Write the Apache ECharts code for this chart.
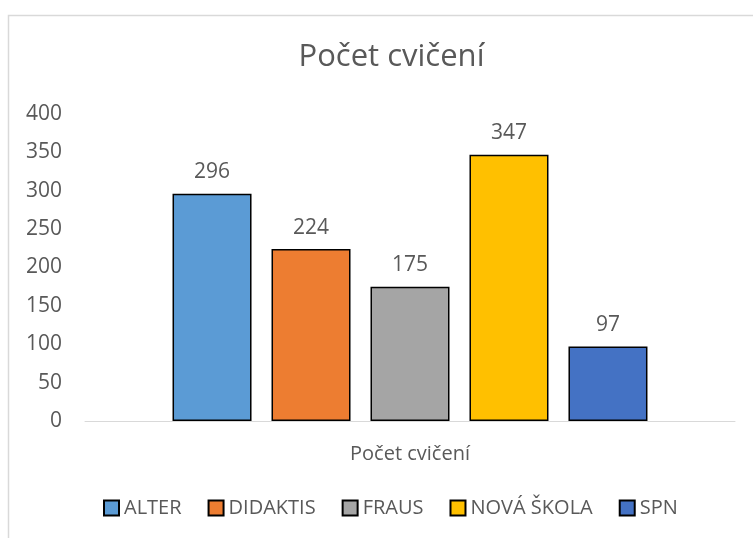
<!DOCTYPE html>
<html>
<head>
<meta charset="utf-8">
<script src="https://cdn.jsdelivr.net/npm/echarts@6/dist/echarts.min.js"></script>
<style>html,body{margin:0;padding:0;background:#fff}#c{width:753px;height:538px}</style>
</head>
<body>
<div id="c"></div>
<script>
const categories = ['Počet cvičení'];
const seriesNames = ['ALTER', 'DIDAKTIS', 'FRAUS', 'NOVÁ ŠKOLA', 'SPN'];
const seriesValues = [296, 224, 175, 347, 97];
const seriesColors = ['#5B9BD5', '#ED7D31', '#A5A5A5', '#FFC000', '#4472C4'];
const yTicks = { min: 0, max: 400, interval: 50 };

const FONT = '"Open Sans", sans-serif';
const TXT = '#595959';

const chart = echarts.init(document.getElementById('c'), null, { renderer: 'canvas' });
chart.setOption({
  animation: false,
  textStyle: { fontFamily: FONT },
  title: {
    text: 'Počet cvičení',
    left: 386.5,
    textAlign: 'center',
    top: 37,
    textStyle: { fontFamily: FONT, fontSize: 31, fontWeight: 'normal', color: TXT }
  },
  legend: {
    left: 103,
    top: 498,
    padding: 0,
    itemWidth: 15,
    itemHeight: 15,
    itemGap: 26,
    icon: 'rect',
    itemStyle: { borderColor: '#000', borderWidth: 2 },
    textStyle: { fontFamily: FONT, fontSize: 20, color: TXT },
    data: seriesNames
  },
  grid: { left: 85, right: 18, top: 114, bottom: 117, containLabel: false },
  xAxis: {
    type: 'category',
    data: categories,
    axisLine: { show: true, lineStyle: { color: '#D9D9D9', width: 1 } },
    axisTick: { show: false },
    axisLabel: { margin: 23, fontFamily: FONT, fontSize: 20, color: TXT }
  },
  yAxis: {
    type: 'value',
    min: yTicks.min,
    max: yTicks.max,
    interval: yTicks.interval,
    axisLine: { show: false },
    axisTick: { show: false },
    splitLine: { show: false },
    axisLabel: { margin: 23, fontFamily: FONT, fontSize: 21, color: TXT }
  },
  graphic: [{
    type: 'rect',
    silent: true,
    shape: { x: 8.5, y: 15.5, width: 900, height: 700 },
    style: { fill: 'none', stroke: '#D9D9D9', lineWidth: 1.5 },
    z: -10
  }],
  series: seriesNames.map((name, i) => ({
    name: name,
    type: 'bar',
    barWidth: 79,
    barGap: '25.3%',
    data: [seriesValues[i]],
    itemStyle: { color: seriesColors[i], borderColor: '#000', borderWidth: 1.5 },
    label: {
      show: true,
      position: 'top',
      distance: 11,
      fontFamily: FONT,
      fontSize: 21,
      color: TXT
    }
  }))
});
</script>
</body>
</html>
